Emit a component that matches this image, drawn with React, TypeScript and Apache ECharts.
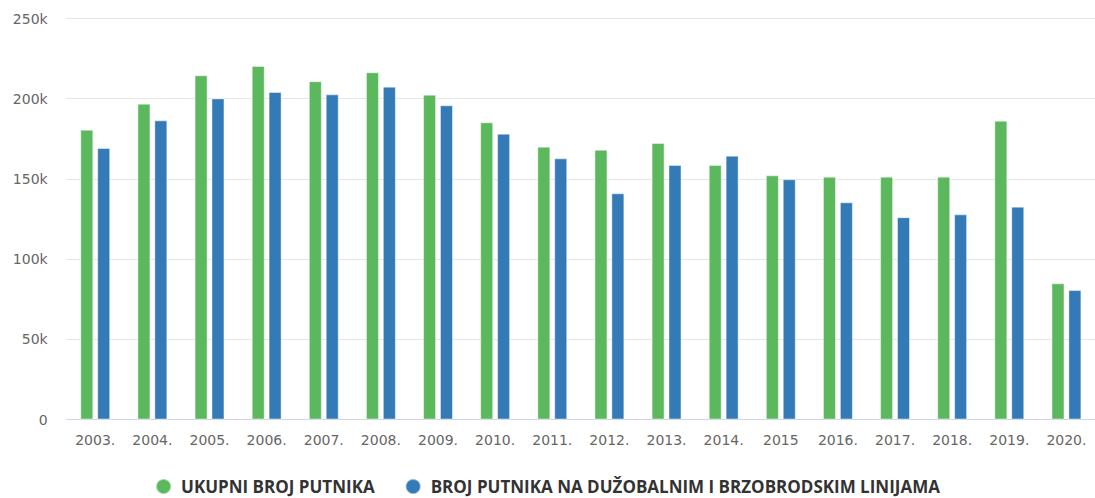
import React, { useEffect, useRef } from "react";
import * as echarts from "echarts";

const categories = [
  "2003.", "2004.", "2005.", "2006.", "2007.", "2008.", "2009.", "2010.", "2011.",
  "2012.", "2013.", "2014.", "2015", "2016.", "2017.", "2018.", "2019.", "2020.",
];
const ukupni = [
  180700, 196900, 214600, 220400, 210900, 216500, 202500, 185300, 170100,
  168200, 172400, 158700, 152200, 151400, 151400, 151400, 186300, 84900,
];
const duzobalni = [
  169300, 186500, 200200, 204200, 202700, 207500, 195900, 178200, 162800,
  141000, 158700, 164500, 149800, 135400, 126100, 127900, 132700, 80700,
];
const yTicks = { min: 0, max: 250000, interval: 50000 };

export default function App() {
  const ref = useRef<HTMLDivElement>(null);
  useEffect(() => {
    if (!ref.current) return;
    const chart = echarts.init(ref.current, null, { renderer: "svg" });
    chart.setOption({
      animation: false,
      grid: { left: 66.7, right: -6.2, top: 18.5, bottom: 78.5, containLabel: false },
      legend: {
        top: 478,
        left: "center",
        icon: "circle",
        itemWidth: 15,
        itemHeight: 15,
        itemGap: 30,
        padding: 0,
        textStyle: {
          fontFamily: "Open Sans",
          fontWeight: "bold",
          fontSize: 17,
          color: "#333333",
          padding: [0, 0, 0, 5],
        },
        data: ["UKUPNI BROJ PUTNIKA", "BROJ PUTNIKA NA DUŽOBALNIM I BRZOBRODSKIM LINIJAMA"],
      },
      xAxis: {
        type: "category",
        data: categories,
        axisLine: { lineStyle: { color: "#ccd6eb" } },
        axisTick: { show: false },
        axisLabel: {
          color: "#666666",
          fontFamily: "DejaVu Sans",
          fontSize: 14,
          margin: 13,
          interval: 0,
        },
      },
      yAxis: {
        type: "value",
        min: yTicks.min,
        max: yTicks.max,
        interval: yTicks.interval,
        axisLine: { show: false },
        axisTick: { show: false },
        splitLine: { lineStyle: { color: "#e6e6e6", width: 1 } },
        axisLabel: {
          color: "#666666",
          fontFamily: "DejaVu Sans",
          fontSize: 14,
          margin: 19,
          formatter: (v: number) => (v === 0 ? "0" : v / 1000 + "k"),
        },
      },
      series: [
        {
          name: "UKUPNI BROJ PUTNIKA",
          type: "bar",
          data: ukupni,
          barWidth: 13,
          barGap: "30%",
          itemStyle: { color: "#5cb85c", borderColor: "rgba(255,255,255,0.45)", borderWidth: 1 },
        },
        {
          name: "BROJ PUTNIKA NA DUŽOBALNIM I BRZOBRODSKIM LINIJAMA",
          type: "bar",
          data: duzobalni,
          barWidth: 13,
          barGap: "30%",
          itemStyle: { color: "#337ab7", borderColor: "rgba(255,255,255,0.45)", borderWidth: 1 },
        },
      ],
    });
    return () => chart.dispose();
  }, []);
  return (
    <div
      ref={ref}
      style={{ position: "fixed", left: 0, top: 0, width: 1095, height: 498, background: "#fff" }}
    />
  );
}
